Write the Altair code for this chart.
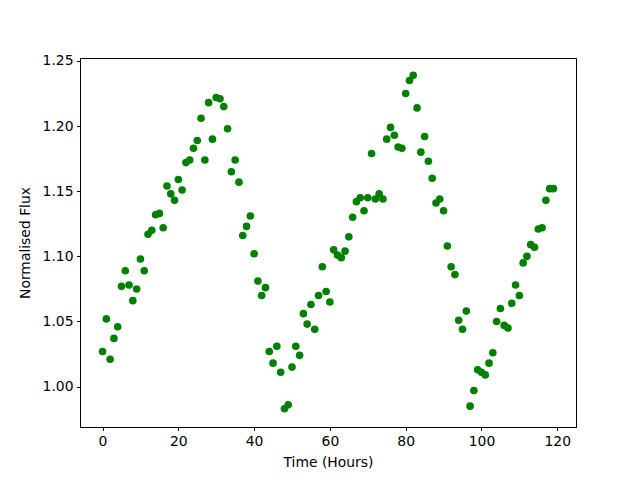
import altair as alt
import pandas as pd

hours = list(range(120))
flux = [
    1.027, 1.052, 1.021, 1.037, 1.046, 1.077, 1.089, 1.078, 1.066, 1.075,
    1.098, 1.089, 1.117, 1.120, 1.132, 1.133, 1.122, 1.154, 1.148, 1.143,
    1.159, 1.151, 1.172, 1.174, 1.183, 1.189, 1.206, 1.174, 1.218, 1.190,
    1.222, 1.221, 1.215, 1.198, 1.165, 1.174, 1.157, 1.116, 1.123, 1.131,
    1.102, 1.081, 1.070, 1.076, 1.027, 1.018, 1.031, 1.011, 0.983, 0.986,
    1.015, 1.031, 1.024, 1.056, 1.048, 1.063, 1.044, 1.070, 1.092, 1.073,
    1.065, 1.105, 1.101, 1.099, 1.104, 1.115, 1.130, 1.142, 1.145, 1.135,
    1.145, 1.179, 1.144, 1.148, 1.144, 1.190, 1.199, 1.193, 1.184, 1.183,
    1.225, 1.235, 1.239, 1.214, 1.180, 1.192, 1.173, 1.160, 1.141, 1.144,
    1.135, 1.108, 1.092, 1.086, 1.051, 1.044, 1.058, 0.985, 0.997, 1.013,
    1.011, 1.009, 1.018, 1.026, 1.050, 1.060, 1.047, 1.045, 1.064, 1.078,
    1.070, 1.095, 1.100, 1.109, 1.107, 1.121, 1.122, 1.143, 1.152, 1.152,
]
x_ticks = [0, 20, 40, 60, 80, 100, 120]
y_ticks = [1.00, 1.05, 1.10, 1.15, 1.20, 1.25]

df = pd.DataFrame({"hours": hours, "flux": flux})

font = "DejaVu Sans"
axis_common = dict(
    labelFont=font, titleFont=font, labelFontSize=13.9, titleFontSize=13.9,
    titleFontWeight="normal", labelColor="black", titleColor="black",
    tickColor="black", tickSize=3.5, tickWidth=1, domainColor="black",
    grid=False, labelPadding=3.5,
)

chart = alt.Chart(df).mark_circle(size=58, color="#008000", opacity=1).encode(
    x=alt.X("hours:Q", title="Time (Hours)",
            scale=alt.Scale(domain=[-5.95, 124.95], nice=False, zero=False),
            axis=alt.Axis(values=x_ticks, format="d", titlePadding=8, **axis_common)),
    y=alt.Y("flux:Q", title="Normalised Flux",
            scale=alt.Scale(domain=[0.969, 1.2523], nice=False, zero=False),
            axis=alt.Axis(values=y_ticks, format=".2f", titlePadding=10, **axis_common)),
).properties(
    width=496, height=369,
    autosize=alt.AutoSizeParams(type="none"),
    padding={"left": 72, "top": 50, "right": 56, "bottom": 45},
).configure_view(stroke="black", strokeWidth=1)

chart.save("out.html", embed_options={"renderer": "svg", "actions": False})
